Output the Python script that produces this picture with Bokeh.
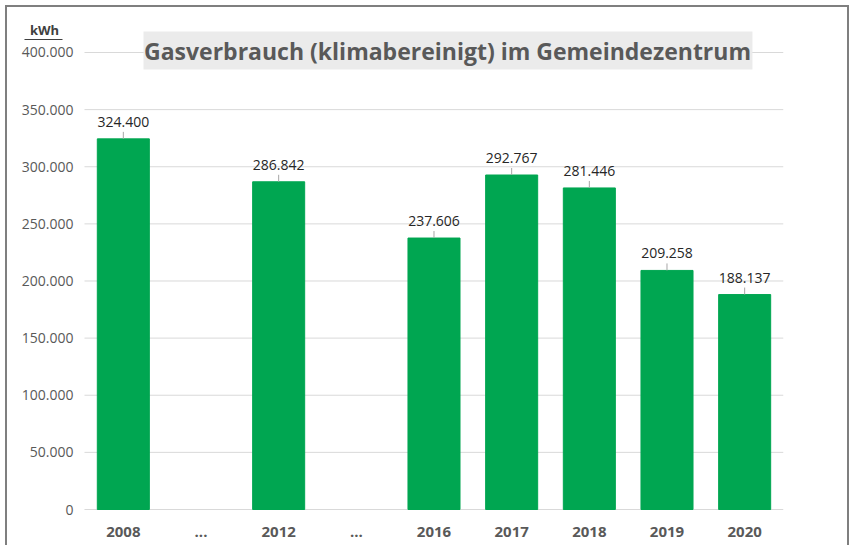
from bokeh.plotting import figure
from bokeh.models import Range1d, FixedTicker, Label, BoxAnnotation, ColumnDataSource
from bokeh.core.properties import value
from bokeh.embed import file_html
from bokeh.resources import INLINE

# ---- data ----
categories = ["2008", "...", "2012", "...", "2016", "2017", "2018", "2019", "2020"]
values = [324400, None, 286842, None, 237606, 292767, 281446, 209258, 188137]
y_ticks = [0, 50000, 100000, 150000, 200000, 250000, 300000, 350000, 400000]
title_text = "Gasverbrauch (klimabereinigt) im Gemeindezentrum"
unit_text = "kWh"

def de_fmt(v):
    return f"{v:,}".replace(",", ".")

PX = 875.27  # data units per pixel (y)

xs = [i for i, v in enumerate(values) if v is not None]
vs = [v for v in values if v is not None]
src = ColumnDataSource(dict(
    x=xs, top=vs, lead_top=[v + 7 * PX for v in vs],
    label=[de_fmt(v) for v in vs],
))
grid_src = ColumnDataSource(dict(
    x0=[-0.5] * len(y_ticks), x1=[len(categories) - 0.5] * len(y_ticks), y=y_ticks))

p = figure(width=844, height=540, output_backend="svg", toolbar_location=None,
           x_range=Range1d(-1.4012, 8.5), y_range=Range1d(-2 * PX, 433260),
           min_border_left=7, min_border_right=68, min_border_top=7, min_border_bottom=36)
p.styles = {"margin-left": "5px", "margin-top": "5px",
            "border-top": "2px solid #7f7f7f", "border-left": "2px solid #7f7f7f",
            "border-right": "2px solid #7f7f7f"}
p.outline_line_color = None
p.background_fill_color = "white"
p.border_fill_color = "white"

# gridlines
p.xgrid.grid_line_color = None
p.ygrid.grid_line_color = None
p.segment(x0="x0", x1="x1", y0="y", y1="y", source=grid_src, line_color="#d9d9d9",
          line_width=1, level="underlay")

# title box
p.add_layout(BoxAnnotation(left=0.2596, right=8.10, top=418380, bottom=385120,
                           fill_color="#ebebeb", fill_alpha=1.0, line_color=None,
                           level="underlay"))

p.vbar(x="x", top="top", width=0.67, bottom=0, source=src, fill_color="#00a651",
       line_color="#00a651")
p.segment(x0="x", x1="x", y0="top", y1="lead_top", source=src, line_color="#a6a6a6",
          line_width=1)
p.text(x="x", y="top", text="label", source=src, y_offset=-17, text_align="center",
       text_baseline="middle", text_font_size="14px", text_color="#262626",
       text_font=value("Open Sans"))

# axes
p.yaxis.ticker = FixedTicker(ticks=y_ticks)
p.yaxis.major_label_overrides = {t: de_fmt(t) for t in y_ticks}
p.yaxis.axis_line_color = None
p.yaxis.major_tick_line_color = None
p.yaxis.major_tick_out = 0
p.yaxis.major_tick_in = 0
p.yaxis.minor_tick_line_color = None
p.yaxis.major_label_standoff = -59
p.yaxis.major_label_text_font = "Open Sans"
p.yaxis.major_label_text_font_size = "14px"
p.yaxis.major_label_text_color = "#595959"

p.xaxis.ticker = FixedTicker(ticks=list(range(len(categories))))
p.xaxis.major_label_overrides = {i: c for i, c in enumerate(categories)}
p.xaxis.axis_line_color = None
p.xaxis.major_tick_line_color = None
p.xaxis.major_tick_out = 0
p.xaxis.major_tick_in = 0
p.xaxis.minor_tick_line_color = None
p.xaxis.major_label_standoff = 15
p.xaxis.major_label_text_font = "Open Sans"
p.xaxis.major_label_text_font_style = "bold"
p.xaxis.major_label_text_font_size = "15px"
p.xaxis.major_label_text_color = "#595959"

# title
p.add_layout(Label(x=4.174, y=401750, text=title_text, text_align="center",
                   text_baseline="middle", text_font="Open Sans", text_font_style="bold",
                   text_font_size="23px", text_color="#595959"))

# unit label with underline
p.add_layout(Label(x=-1.015, y=419260, text=unit_text, text_align="center",
                   text_baseline="middle", text_font="Open Sans", text_font_style="bold",
                   text_font_size="13px", text_color="#404040"))
p.add_layout(BoxAnnotation(left=-1.2725, right=-0.7833, top=411377 + 0.6 * PX,
                           bottom=411377 - 0.6 * PX, fill_color="#404040", fill_alpha=1.0,
                           line_color=None))

open("out.html", "w").write(file_html(p, INLINE))
